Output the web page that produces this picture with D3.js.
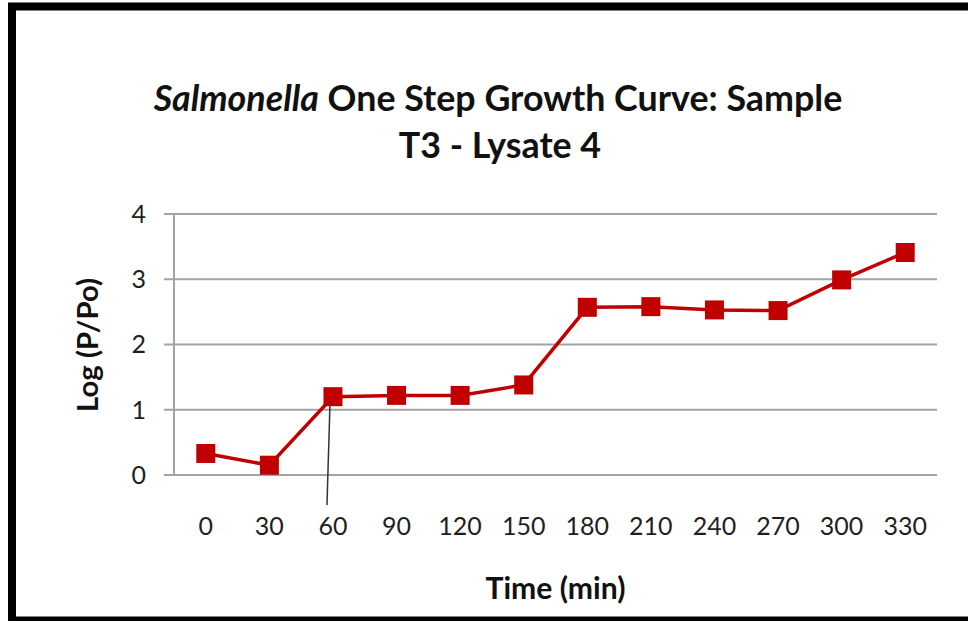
<!DOCTYPE html>
<html>
<head>
<meta charset="utf-8">
<script src="https://cdn.jsdelivr.net/npm/d3@7"></script>
<style>
  html, body { margin: 0; padding: 0; background: #fff; }
  svg { display: block; }
  text { font-family: Lato, "Open Sans", "DejaVu Sans", sans-serif; }
</style>
</head>
<body>
<svg id="chart" width="968" height="621"></svg>
<script>
// ---- data ----
const times = ["0", "30", "60", "90", "120", "150", "180", "210", "240", "270", "300", "330"];
const logValues = [0.33, 0.15, 1.20, 1.22, 1.22, 1.38, 2.57, 2.58, 2.53, 2.52, 2.99, 3.41];
const yTicks = [0, 1, 2, 3, 4];
const titleItalic = "Salmonella";
const titleRest = " One Step Growth Curve: Sample";
const titleLine2 = "T3 - Lysate 4";
const xLabel = "Time (min)";
const yLabel = "Log (P/Po)";

// ---- layout ----
const W = 968, H = 621;
const plot = { left: 174, right: 937, top: 214, bottom: 475 };
const svg = d3.select("#chart");

function fitWidth(sel, target, base) {
  const w = sel.node().getBBox().width;
  sel.attr("font-size", base * target / w);
}

// frame
svg.append("rect")
  .attr("x", 12).attr("y", 6.5)
  .attr("width", 1000).attr("height", 614)
  .attr("fill", "none").attr("stroke", "#000").attr("stroke-width", 8);

const x = d3.scaleBand().domain(times).range([plot.left, plot.right]);
const y = d3.scaleLinear().domain([0, 4]).range([plot.bottom, plot.top]);

// gridlines
svg.append("g").selectAll("line").data(yTicks).join("line")
  .attr("x1", plot.left - 10).attr("x2", plot.right)
  .attr("y1", d => y(d)).attr("y2", d => y(d))
  .attr("stroke", "#a3a3a3").attr("stroke-width", 2);

// y axis line
svg.append("line")
  .attr("x1", plot.left).attr("x2", plot.left)
  .attr("y1", y(4)).attr("y2", y(0))
  .attr("stroke", "#a3a3a3").attr("stroke-width", 2);

// y tick labels
svg.append("g").selectAll("text").data(yTicks).join("text")
  .attr("x", 146).attr("y", d => y(d)).attr("dy", "0.35em")
  .attr("text-anchor", "end").attr("font-size", 25).attr("fill", "#1f1f1f")
  .text(d => d);

// x tick labels
svg.append("g").selectAll("text").data(times).join("text")
  .attr("x", d => x(d) + x.bandwidth() / 2).attr("y", 535)
  .attr("text-anchor", "middle").attr("font-size", 25).attr("fill", "#1f1f1f")
  .text(d => d);

// leader line at 60
const i60 = times.indexOf("60");
svg.append("line")
  .attr("x1", x("60") + x.bandwidth() / 2 - 3).attr("y1", y(logValues[i60]) + 8)
  .attr("x2", x("60") + x.bandwidth() / 2 - 6).attr("y2", y(0) + 30)
  .attr("stroke", "#333").attr("stroke-width", 1.5);

// series line
const line = d3.line()
  .x((d, i) => x(times[i]) + x.bandwidth() / 2)
  .y(d => y(d));
svg.append("path").datum(logValues)
  .attr("d", line).attr("fill", "none")
  .attr("stroke", "#c00000").attr("stroke-width", 3.5);

// markers
const ms = 19;
svg.append("g").selectAll("rect").data(logValues).join("rect")
  .attr("x", (d, i) => x(times[i]) + x.bandwidth() / 2 - ms / 2)
  .attr("y", d => y(d) - ms / 2)
  .attr("width", ms).attr("height", ms)
  .attr("fill", "#c00000");

// title
const t1 = svg.append("text")
  .attr("x", 498).attr("y", 111).attr("text-anchor", "middle")
  .attr("font-weight", "bold").attr("font-size", 30).attr("fill", "#111");
t1.append("tspan").attr("font-style", "italic").text(titleItalic);
t1.append("tspan").text(titleRest);
fitWidth(t1, 690, 30);
const fs = +t1.attr("font-size");
svg.append("text")
  .attr("x", 500).attr("y", 158).attr("text-anchor", "middle")
  .attr("font-weight", "bold").attr("font-size", fs).attr("fill", "#111")
  .text(titleLine2);

// x label
const xl = svg.append("text")
  .attr("x", (plot.left + plot.right) / 2).attr("y", 599).attr("text-anchor", "middle")
  .attr("font-weight", "bold").attr("font-size", 26).attr("fill", "#111")
  .text(xLabel);
fitWidth(xl, 140, 26);

// y label
const yl = svg.append("text")
  .attr("transform", "translate(98,345) rotate(-90)").attr("text-anchor", "middle")
  .attr("font-weight", "bold").attr("font-size", 24).attr("fill", "#111")
  .text(yLabel);
fitWidth(yl, 134, 24);
</script>
</body>
</html>
